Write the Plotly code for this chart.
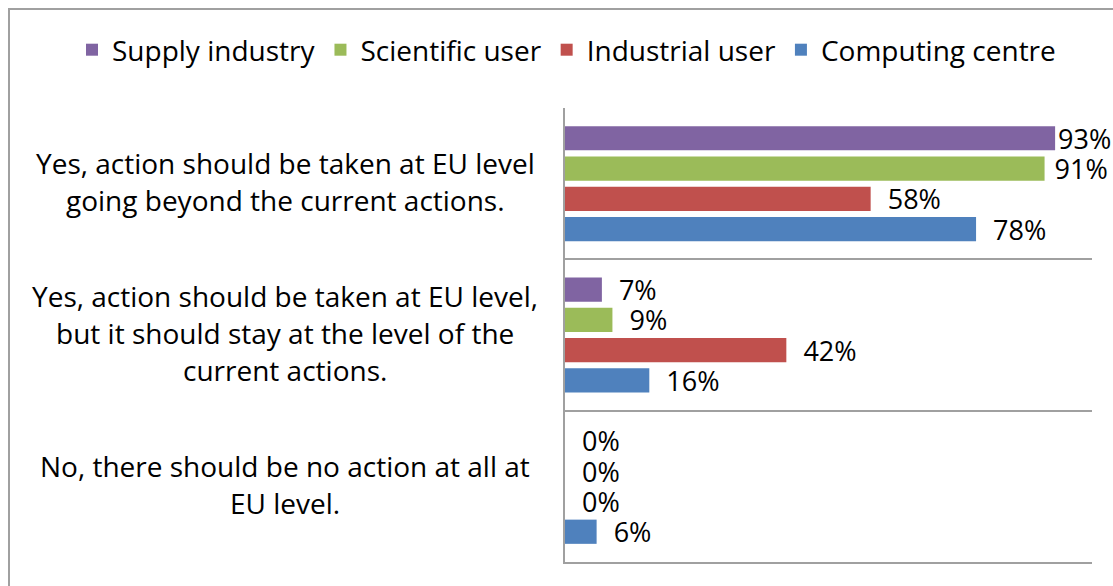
import plotly.graph_objects as go

categories = [
    "Yes, action should be taken at EU level<br>going beyond the current actions.",
    "Yes, action should be taken at EU level,<br>but it should stay at the level of the<br>current actions.",
    "No, there should be no action at all at<br>EU level.",
]
series_names = ["Supply industry", "Scientific user", "Industrial user", "Computing centre"]
supply_industry = [0.93, 0.07, 0.00]
scientific_user = [0.91, 0.09, 0.00]
industrial_user = [0.58, 0.42, 0.00]
computing_centre = [0.78, 0.16, 0.06]
colors = ["#8064A2", "#9BBB59", "#C0504D", "#4F81BD"]

values = [supply_industry, scientific_user, industrial_user, computing_centre]

FONT = "Open Sans"
FS = 28
FS_LABEL = 27

W, H = 1113, 586
L, R, T, B = 565, 21, 108, 24
pw, ph = W - L - R, H - T - B


def label(v):
    # pad the label away from the bar end unless it would run off the page
    end = L + v * pw
    pad = "\u00a0\u00a0" if end + 17 + 54 <= W else ("\u00a0" if end + 10 + 54 <= W else "")
    return pad + f"{round(v * 100)}%"


fig = go.Figure()
# add in reverse so that the first series sits at the top of each group
for name, vals, col in reversed(list(zip(series_names, values, colors))):
    fig.add_trace(go.Bar(
        y=categories, x=vals, name=name, orientation="h",
        marker=dict(color=col, line=dict(width=0)),
        text=[label(v) for v in vals],
        textposition="outside", constraintext="none", cliponaxis=False,
        textfont=dict(family=FONT, size=FS_LABEL, color="#000000"),
        hoverinfo="skip",
    ))

# category labels (centered multi-line text)
line_h = 37
cx = 285
for cat in categories:
    lines = cat.split("<br>")
    n = len(lines)
    for i, ln in enumerate(lines):
        fig.add_annotation(
            x=(cx - L) / pw, xref="paper", y=cat, yref="y",
            text=ln, showarrow=False, xanchor="center", yanchor="middle",
            yshift=((n - 1) / 2 - i) * line_h + 2,
            font=dict(family=FONT, size=FS, color="#000000"),
        )

# chart border
fig.add_shape(type="rect", xref="paper", yref="paper",
              x0=(9 - L) / pw, x1=(W + 20 - L) / pw,
              y0=(H - B - (H + 20)) / ph, y1=(H - B - 9) / ph,
              line=dict(color="#A0A0A0", width=2), fillcolor="rgba(0,0,0,0)", layer="below")

fig.update_layout(
    width=W, height=H,
    margin=dict(l=L, r=R, t=T, b=B),
    paper_bgcolor="white", plot_bgcolor="white",
    barmode="group", bargap=0.2, bargroupgap=0.2,
    font=dict(family=FONT, size=FS, color="#000000"),
    showlegend=True,
    legend=dict(orientation="h", traceorder="reversed",
                x=(72 - L) / pw, xanchor="left",
                y=(H - B - 50) / ph, yanchor="middle",
                bgcolor="rgba(0,0,0,0)",
                font=dict(family=FONT, size=FS, color="#000000"),
                itemclick=False, itemdoubleclick=False),
    xaxis=dict(range=[0, 1], showgrid=False, zeroline=False, showticklabels=False,
               showline=True, linecolor="#A0A0A0", linewidth=2, mirror=False, ticks=""),
    yaxis=dict(categoryorder="array", categoryarray=list(reversed(categories)),
               tickson="boundaries", showgrid=True, gridcolor="#A0A0A0", gridwidth=2,
               showticklabels=False, ticks="", showline=True, linecolor="#A0A0A0",
               linewidth=2, zeroline=False),
)

fig.write_html("out.html", config={"displayModeBar": False},
               post_script="document.body.style.margin='0';document.body.style.overflow='hidden';")
